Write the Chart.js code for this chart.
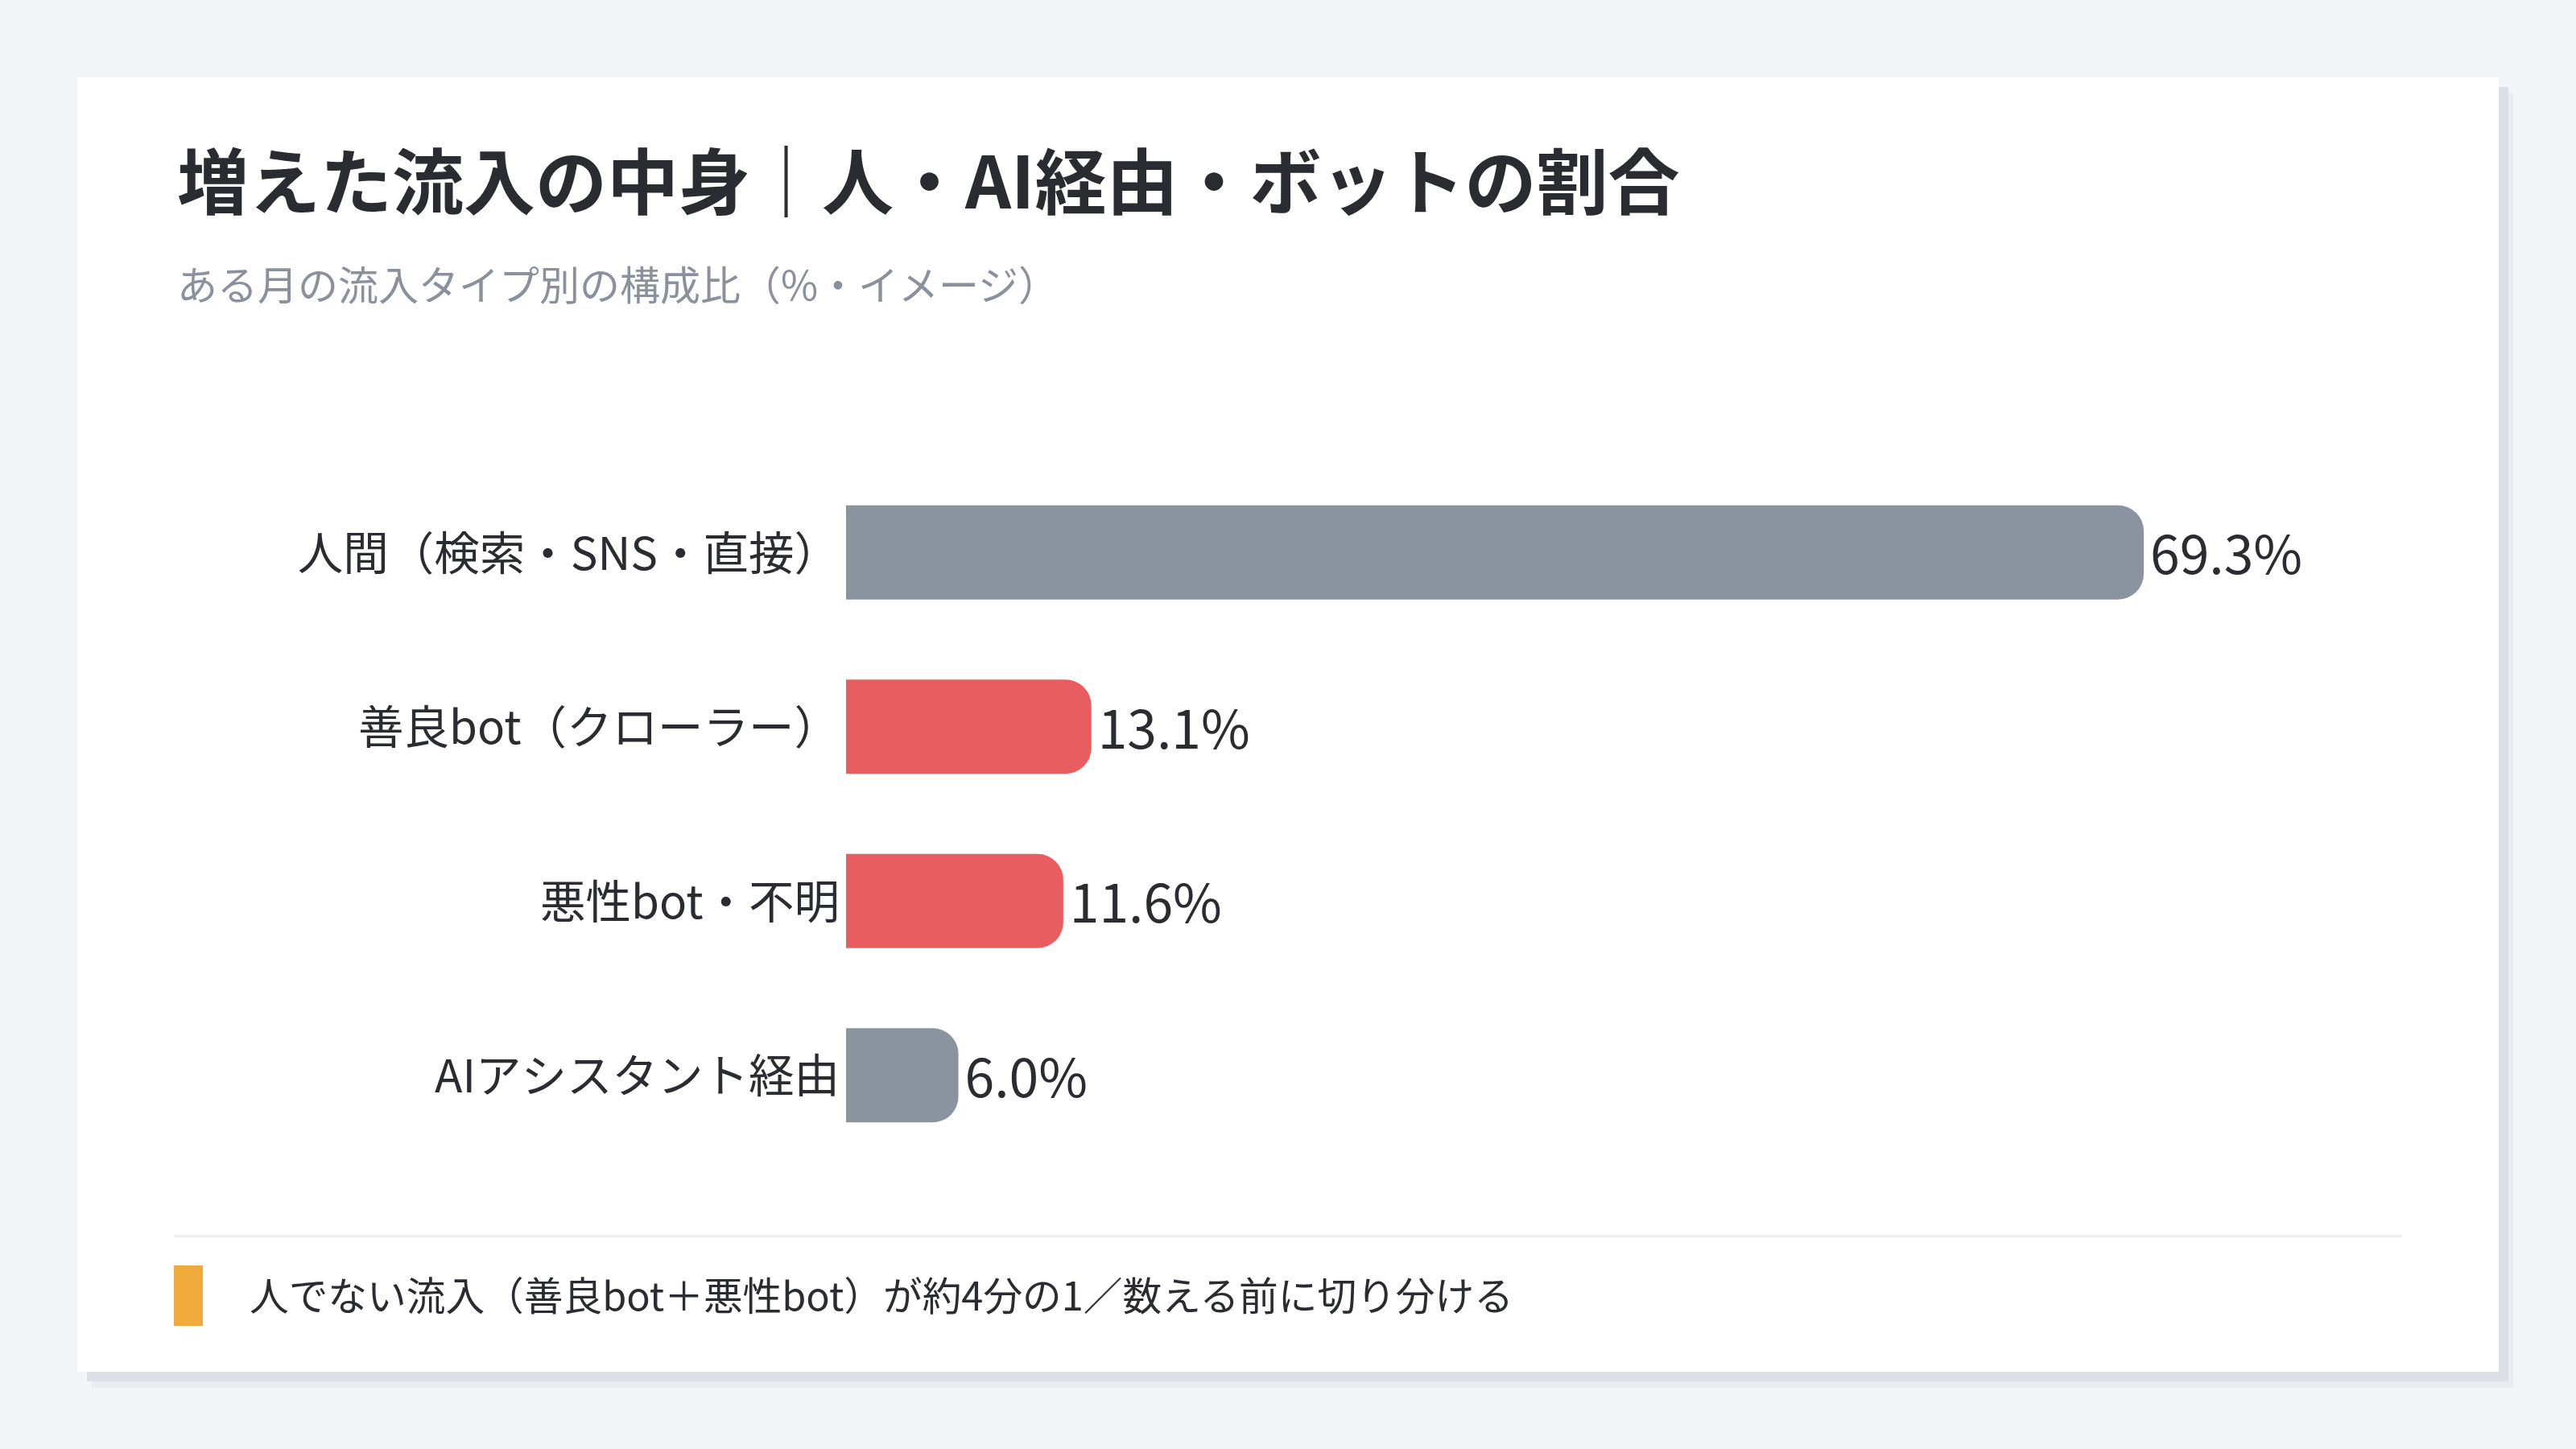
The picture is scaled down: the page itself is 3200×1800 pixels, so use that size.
<!DOCTYPE html>
<html lang="ja">
<head>
<meta charset="utf-8">
<title>増えた流入の中身</title>
<script src="https://cdn.jsdelivr.net/npm/chart.js@4.4.1/dist/chart.umd.min.js"></script>
<style>
  html, body { margin: 0; padding: 0; }
  body {
    width: 3200px; height: 1800px;
    background: #f3f4f8;
    font-family: "Noto Sans CJK JP", "Noto Sans", sans-serif;
    position: relative; overflow: hidden;
  }
  .card {
    position: absolute; left: 96px; top: 96px;
    width: 3008px; height: 1608px;
    background: #ffffff;
    box-shadow: 12px 12px 0 #dcdfe6, 18px 20px 0 #eaebf0;
  }
  .title {
    position: absolute; left: 124px; top: 80px;
    font-size: 89px; line-height: 89px; font-weight: 700;
    color: #2b2c31; white-space: nowrap;
  }
  .subtitle {
    position: absolute; left: 124px; top: 230px;
    font-size: 50px; line-height: 50px;
    color: #8a909c; white-space: nowrap;
  }
  #chartBox {
    position: absolute; left: 120px; top: 440px;
    width: 2768px; height: 950px;
  }
  .rule {
    position: absolute; left: 120px; top: 1438px;
    width: 2768px; height: 3px; background: #eceef2;
  }
  .mark {
    position: absolute; left: 120px; top: 1476px;
    width: 36px; height: 75px; background: #f0aa3c;
  }
  .note {
    position: absolute; left: 214px; top: 1487px;
    font-size: 48.7px; line-height: 49px;
    color: #2b2c31; white-space: nowrap;
  }
</style>
</head>
<body>
<div class="card">
  <div class="title">増えた流入の中身｜人・AI経由・ボットの割合</div>
  <div class="subtitle">ある月の流入タイプ別の構成比（%・イメージ）</div>
  <canvas id="chartBox" width="2768" height="950"></canvas>
  <div class="rule"></div>
  <div class="mark"></div>
  <div class="note">人でない流入（善良bot＋悪性bot）が約4分の1／数える前に切り分ける</div>
</div>

<script>
// data
var categories = ['人間（検索・SNS・直接）', '善良bot（クローラー）', '悪性bot・不明', 'AIアシスタント経由'];
var shares     = [69.3, 13.1, 11.6, 6.0];
var barColors  = ['#8a93a0', '#e85e60', '#e85e60', '#8a93a0'];
var axisMax    = 80;

Chart.defaults.font.family = '"Noto Sans CJK JP", "Noto Sans", sans-serif';
Chart.defaults.color = '#2b2c31';

// value text at the end of each bar
var valueLabels = {
  id: 'valueLabels',
  afterDatasetsDraw: function(chart) {
    var ctx = chart.ctx;
    var meta = chart.getDatasetMeta(0);
    ctx.save();
    ctx.font = '66px "Noto Sans CJK JP", "Noto Sans", sans-serif';
    ctx.fillStyle = '#2b2c31';
    ctx.textAlign = 'left';
    ctx.textBaseline = 'middle';
    meta.data.forEach(function(bar, i) {
      ctx.fillText(shares[i].toFixed(1) + '%', bar.x + 8, bar.y + 2);
    });
    ctx.restore();
  }
};

var ctx = document.getElementById('chartBox').getContext('2d');
var myChart = new Chart(ctx, {
  type: 'bar',
  data: {
    labels: categories,
    datasets: [{
      data: shares,
      backgroundColor: barColors,
      borderWidth: 0,
      borderRadius: 32,
      borderSkipped: 'start',
      categoryPercentage: 1,
      barPercentage: 0.54
    }]
  },
  options: {
    indexAxis: 'y',
    responsive: false,
    animation: false,
    devicePixelRatio: 1,
    layout: { padding: { left: 0, right: 72, top: 0, bottom: 0 } },
    plugins: {
      legend: { display: false },
      tooltip: { enabled: false },
      title: { display: false }
    },
    scales: {
      x: {
        display: false,
        min: 0,
        max: axisMax
      },
      y: {
        grid: { display: false, drawTicks: false },
        border: { display: false },
        ticks: {
          padding: 8,
          color: '#2b2c31',
          font: { size: 56.5 }
        },
        afterFit: function(scale) { scale.width = 835; }
      }
    }
  },
  plugins: [valueLabels]
});
</script>
</body>
</html>
